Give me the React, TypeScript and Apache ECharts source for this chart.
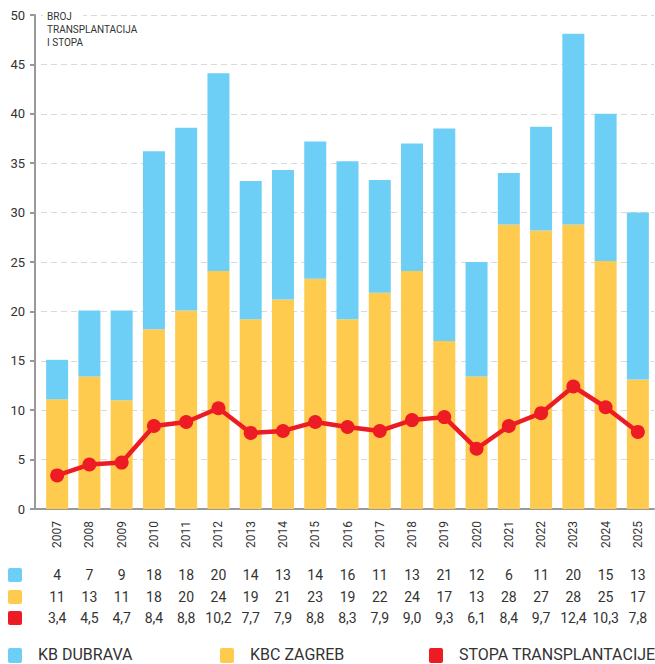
import React, { useEffect, useRef } from "react";
import * as echarts from "echarts";

const years = ["2007","2008","2009","2010","2011","2012","2013","2014","2015","2016","2017","2018","2019","2020","2021","2022","2023","2024","2025"];
// table values (as printed under the chart)
const dubravaTable = [4,7,9,18,18,20,14,13,14,16,11,13,21,12,6,11,20,15,13];
const zagrebTable = [11,13,11,18,20,24,19,21,23,19,22,24,17,13,28,27,28,25,17];
const rateTable = [3.4,4.5,4.7,8.4,8.8,10.2,7.7,7.9,8.8,8.3,7.9,9.0,9.3,6.1,8.4,9.7,12.4,10.3,7.8];
// bar heights as drawn in the picture
const zagrebBars = [11.1,13.4,11,18.2,20.1,24.1,19.2,21.2,23.3,19.2,21.9,24.1,17,13.4,28.8,28.2,28.8,25.1,13.1];
const dubravaBars = [4,6.7,9.1,18,18.5,20,14,13.1,13.9,16,11.4,12.9,21.5,11.6,5.2,10.5,19.3,14.9,16.9];
const yTicks = { min: 0, max: 50, interval: 5 };
const legendNames = ["KB DUBRAVA", "KBC ZAGREB", "STOPA TRANSPLANTACIJE"];

const BLUE = "#6dcff6";
const YELLOW = "#fecb4f";
const RED = "#ed1c24";
const TEXT = "#333333";
const FONT = "Roboto, 'DejaVu Sans', sans-serif";

const fmt = (v: number) => v.toFixed(1).replace(".", ",");

export default function App() {
  const ref = useRef<HTMLDivElement>(null);
  useEffect(() => {
    if (!ref.current) return;
    const chart = echarts.init(ref.current, undefined, { renderer: "svg" });
    const tableAxis = (data: string[], offset: number) => ({
      type: "category",
      data,
      position: "bottom",
      offset,
      gridIndex: 0,
      axisLine: { show: false },
      axisTick: { show: false },
      axisLabel: { color: TEXT, fontSize: 14, fontFamily: FONT, margin: 8, interval: 0 },
    });
    const legendColors = [BLUE, YELLOW, RED];
    const legendIconX = [8, 220, 429];
    const legendTextX = [38, 250, 459];
    const legendGraphics: any[] = [];
    legendNames.forEach((n, i) => {
      legendGraphics.push({
        type: "rect",
        shape: { x: legendIconX[i], y: 648, width: 14, height: 15, r: 2 },
        style: { fill: legendColors[i] },
      });
      legendGraphics.push({
        type: "text",
        x: legendTextX[i],
        y: 654,
        style: { text: n, fill: TEXT, font: `16px ${FONT}`, verticalAlign: "middle" },
      });
    });
    chart.setOption({
      animation: false,
      backgroundColor: "#ffffff",
      textStyle: { fontFamily: FONT },
      grid: { left: 41, right: 1, top: 15, bottom: 155, containLabel: false },
      xAxis: [
        {
          type: "category",
          data: years,
          axisLine: { lineStyle: { color: "#999999", width: 2 } },
          axisTick: { show: false },
          axisLabel: { rotate: 90, color: TEXT, fontSize: 12, fontFamily: FONT, margin: 12, interval: 0 },
        },
        tableAxis(dubravaTable.map(String), 51),
        tableAxis(zagrebTable.map(String), 73),
        tableAxis(rateTable.map(fmt), 94),
      ],
      yAxis: {
        type: "value",
        ...yTicks,
        offset: 6,
        axisLine: { show: true, lineStyle: { color: "#999999", width: 2 } },
        axisTick: { show: true, length: 5, lineStyle: { color: "#999999", width: 2 } },
        axisLabel: { color: TEXT, fontSize: 13, fontFamily: FONT, margin: 10 },
        splitLine: { lineStyle: { color: "#d9d9d9", type: [6, 4], width: 1 } },
      },
      series: [
        {
          name: legendNames[1],
          type: "bar",
          stack: "t",
          data: zagrebBars,
          barWidth: 22,
          itemStyle: { color: YELLOW },
        },
        {
          name: legendNames[0],
          type: "bar",
          stack: "t",
          data: dubravaBars,
          barWidth: 22,
          itemStyle: { color: BLUE },
        },
        {
          name: legendNames[2],
          type: "line",
          data: rateTable,
          symbol: "circle",
          symbolSize: 14,
          lineStyle: { color: RED, width: 4.5 },
          itemStyle: { color: RED },
          z: 5,
        },
      ],
      graphic: [
        { type: "line", shape: { x1: 30, y1: 509, x2: 42, y2: 509 }, style: { stroke: "#999999", lineWidth: 2 } },
        { type: "rect", shape: { x: 43, y: 9, width: 40, height: 12 }, style: { fill: "#ffffff" }, z: 10 },
        {
          type: "text",
          x: 47,
          y: 10,
          z: 11,
          style: {
            text: "BROJ\nTRANSPLANTACIJA\nI STOPA",
            fill: TEXT,
            font: `10px ${FONT}`,
            lineHeight: 13,
          },
        },
        { type: "rect", shape: { x: 8, y: 568, width: 14, height: 14, r: 2 }, style: { fill: BLUE } },
        { type: "rect", shape: { x: 8, y: 590, width: 14, height: 14, r: 2 }, style: { fill: YELLOW } },
        { type: "rect", shape: { x: 8, y: 611, width: 14, height: 14, r: 2 }, style: { fill: RED } },
        ...legendGraphics,
      ],
    });
    return () => chart.dispose();
  }, []);
  return <div ref={ref} style={{ width: 655, height: 664, position: "absolute", left: 0, top: 0 }} />;
}
